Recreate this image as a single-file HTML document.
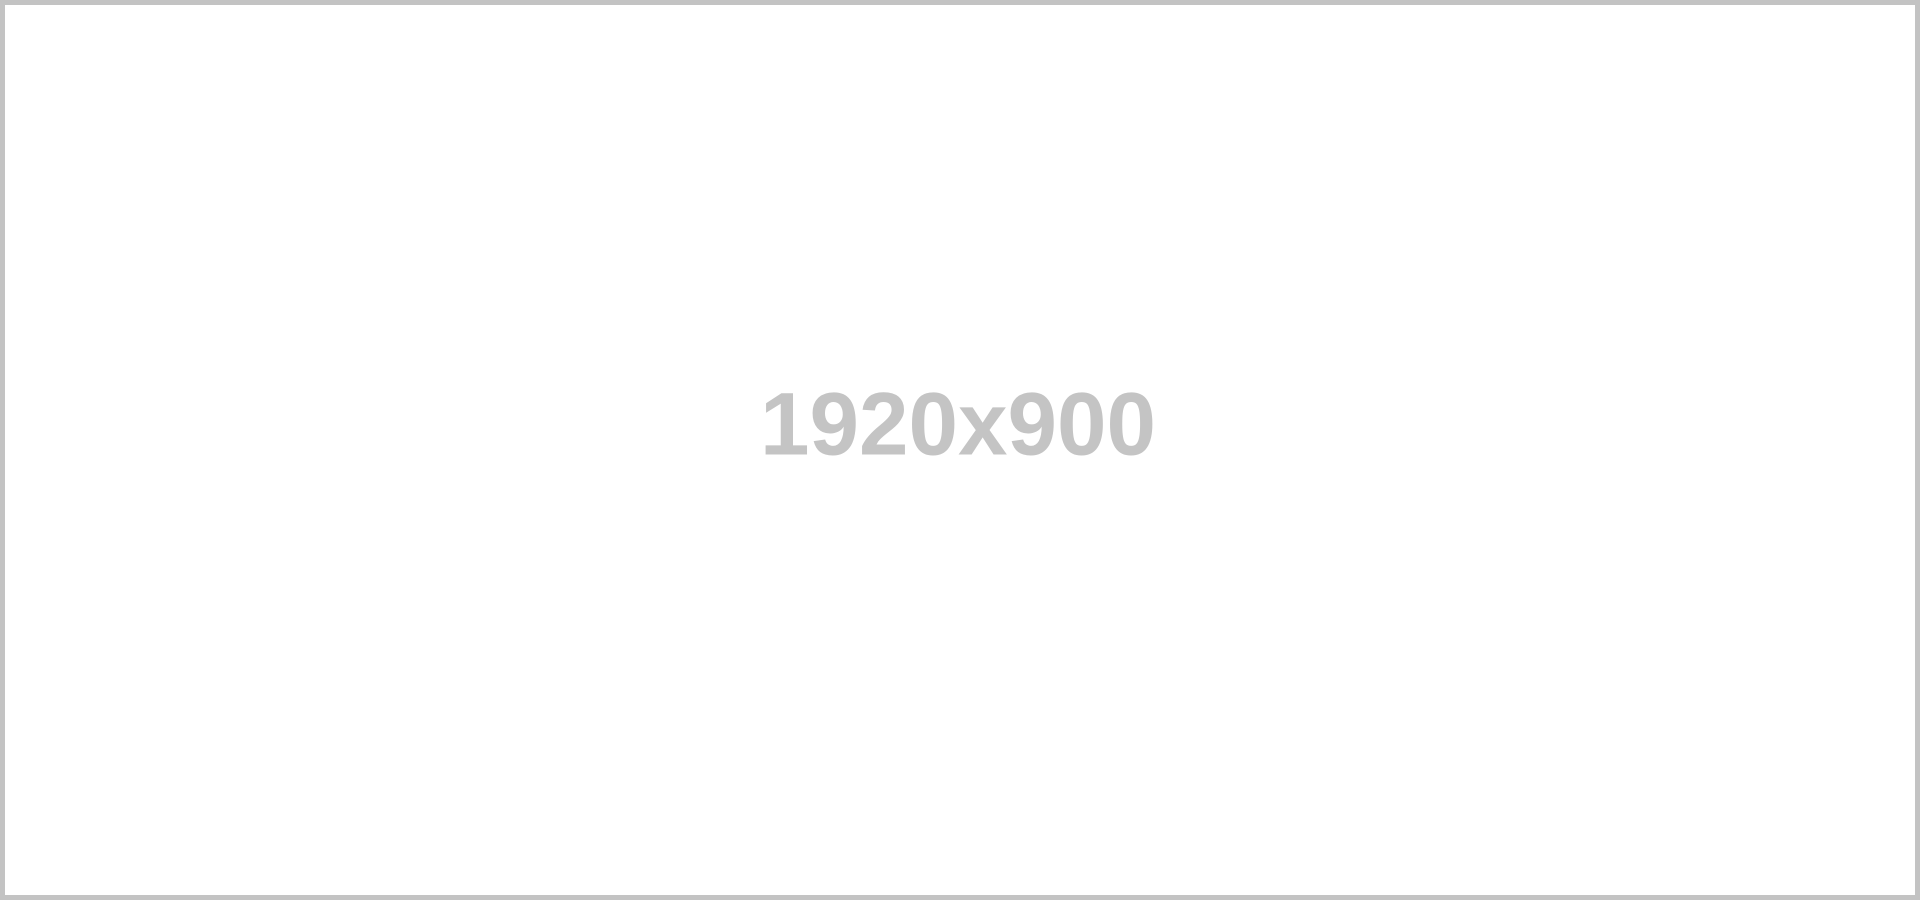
<!DOCTYPE html>
<html><head><meta charset="utf-8"><style>
html,body{margin:0;padding:0;background:#fff;}
#frame{position:absolute;left:0;top:0;width:1920px;height:900px;box-sizing:border-box;border:5px solid #c3c3c3;background:#fff;}
#label{position:absolute;left:-7px;width:1920px;top:419px;transform:translateY(-50%);text-align:center;font-family:"Liberation Sans",sans-serif;font-weight:bold;font-size:89px;letter-spacing:0px;line-height:1;color:#c4c4c4;}
</style></head><body>
<div id="frame">
<div id="label">1920x900</div>
</div>
</body></html>
